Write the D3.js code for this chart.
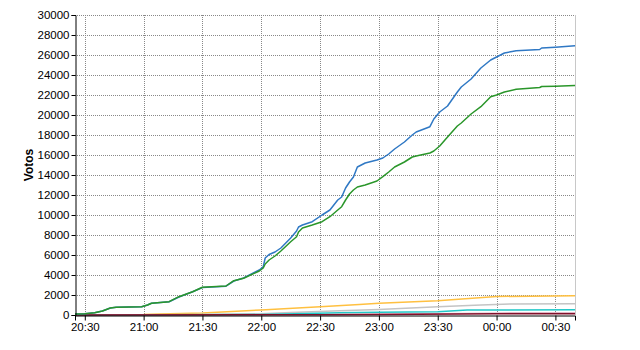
<!DOCTYPE html>
<html><head><meta charset="utf-8">
<script src="https://cdn.jsdelivr.net/npm/d3@7"></script>
<style>
body{margin:0;background:#fff;}
svg text{font-family:"Liberation Sans",Arial,sans-serif;}
</style></head>
<body><svg id="c" width="640" height="350"></svg>
<script>
// ---- data ----
const domainStart = "20:25", domainEnd = "00:40";
const xTickLabels = ["20:30","21:00","21:30","22:00","22:30","23:00","23:30","00:00","00:30"];
const yTicks = [0,2000,4000,6000,8000,10000,12000,14000,16000,18000,20000,22000,24000,26000,28000,30000];

const mainTimes = ["20:25","20:30","20:35","20:39","20:43","20:46","20:59","21:02","21:04","21:13","21:18","21:25","21:30","21:42","21:46","21:51","21:59","22:01","22:02","22:04","22:07","22:10","22:15","22:18","22:19","22:21","22:26","22:31","22:35","22:39","22:41","22:43","22:45","22:47","22:49","22:53","22:59","23:02","23:05","23:08","23:13","23:17","23:19","23:26","23:28","23:31","23:35","23:40","23:42","23:47","23:52","23:57","00:00","00:04","00:10","00:22","00:23","00:30","00:40"];
const blueValues = [100,120,230,400,700,780,830,1000,1180,1330,1800,2330,2750,2880,3400,3700,4500,4830,5700,6050,6300,6700,7700,8400,8800,9000,9330,10000,10500,11500,11800,12700,13300,13800,14800,15200,15500,15700,16100,16600,17300,18000,18300,18830,19600,20300,20900,22300,22800,23600,24700,25500,25800,26200,26430,26550,26700,26780,26930];
const greenValues = [100,120,230,400,700,780,830,1000,1180,1330,1830,2330,2770,2900,3430,3670,4400,4700,5100,5500,5900,6400,7330,7830,8300,8700,9000,9330,9830,10500,10830,11500,12100,12500,12800,13000,13400,13830,14300,14800,15300,15800,15900,16200,16400,16900,17800,18900,19200,20100,20830,21830,22000,22300,22570,22750,22850,22880,22950];

const orangeTimes = ["20:25","21:00","21:08","21:30","22:00","22:30","22:50","23:00","23:30","00:00","00:40"];
const orangeValues = [0,50,100,200,500,830,1050,1170,1430,1850,1930];
const grayTimes = ["20:25","21:30","22:00","22:15","22:40","23:00","23:30","23:52","00:07","00:40"];
const grayValues = [0,50,120,250,430,550,830,1000,1100,1120];
const cyanTimes = ["20:25","22:00","22:40","23:00","23:30","23:45","00:40"];
const cyanValues = [0,50,230,270,330,500,530];
const pinkTimes = ["20:25","22:30","23:00","23:30","00:00","00:40"];
const pinkValues = [0,50,100,150,200,220];
const redTimes = ["20:25","22:30","23:00","00:00","00:40"];
const redValues = [0,20,60,120,130];

// ---- helpers ----
function parseT(s){
  const [h,m] = s.split(":").map(Number);
  const day = h < 12 ? 2 : 1;
  return new Date(2000,0,day,h,m);
}
const svg = d3.select("#c");
const L = 75, R = 575, T = 15, B = 315;
const x = d3.scaleTime().domain([parseT(domainStart), parseT(domainEnd)]).range([L,R]);
const y = d3.scaleLinear().domain([0,30000]).range([B,T]);

// gridlines
const g = svg.append("g");
g.selectAll("line.h").data(yTicks.slice(1)).join("line")
  .attr("x1",L).attr("x2",R).attr("y1",d=>Math.round(y(d))+0.5).attr("y2",d=>Math.round(y(d))+0.5)
  .attr("stroke","#888").attr("stroke-dasharray","1,1");
g.selectAll("line.v").data(xTickLabels).join("line")
  .attr("x1",d=>Math.round(x(parseT(d)))+0.5).attr("x2",d=>Math.round(x(parseT(d)))+0.5)
  .attr("y1",T).attr("y2",B)
  .attr("stroke","#888").attr("stroke-dasharray","1,1");
// right border
g.append("line").attr("x1",R+0.5).attr("x2",R+0.5).attr("y1",T).attr("y2",B).attr("stroke","#c8c8c8");

// lines
const line = d3.line().x(d=>x(d[0])).y(d=>y(d[1]));
function series(times, vals, color, w){
  const data = times.map((t,i)=>[parseT(t), vals[i]]);
  svg.append("path").datum(data).attr("d",line).attr("fill","none")
    .attr("stroke",color).attr("stroke-width",w).attr("stroke-linejoin","round");
}
series(orangeTimes, orangeValues, "#ffc040", 1.5);
series(grayTimes, grayValues, "#c4c4c4", 1.5);
series(cyanTimes, cyanValues, "#20c8c8", 1.5);
series(pinkTimes, pinkValues, "#d8a0b4", 1.2);
series(redTimes, redValues, "#80102a", 1.5);
series(mainTimes, blueValues, "#2f78c4", 1.5);
series(mainTimes, greenValues, "#2a962a", 1.5);

// axes
const yAxis = d3.axisLeft(y).tickValues(yTicks).tickSize(4).tickPadding(2).tickFormat(d3.format("d"));
const ya = svg.append("g").attr("transform",`translate(${L+0.5},0)`).call(yAxis);
ya.selectAll("text").attr("font-size","11.5px").attr("fill","#000").attr("font-family","Liberation Sans, Arial, sans-serif");
ya.select(".domain").attr("stroke","#000");
ya.selectAll(".tick line").attr("stroke","#000");

const xAxis = d3.axisBottom(x).tickValues(xTickLabels.map(parseT)).tickSize(5).tickPadding(2).tickFormat(d3.timeFormat("%H:%M"));
const xa = svg.append("g").attr("transform",`translate(0,${B+0.5})`).call(xAxis);
xa.selectAll("text").attr("font-size","11.5px").attr("fill","#000").attr("font-family","Liberation Sans, Arial, sans-serif");
xa.select(".domain").attr("stroke","#000");
xa.selectAll(".tick line").attr("stroke","#000");

// y title
svg.append("text").attr("transform","translate(33,165) rotate(-90)")
  .attr("text-anchor","middle").attr("font-weight","bold").attr("font-size","12px").text("Votos");
</script></body></html>
